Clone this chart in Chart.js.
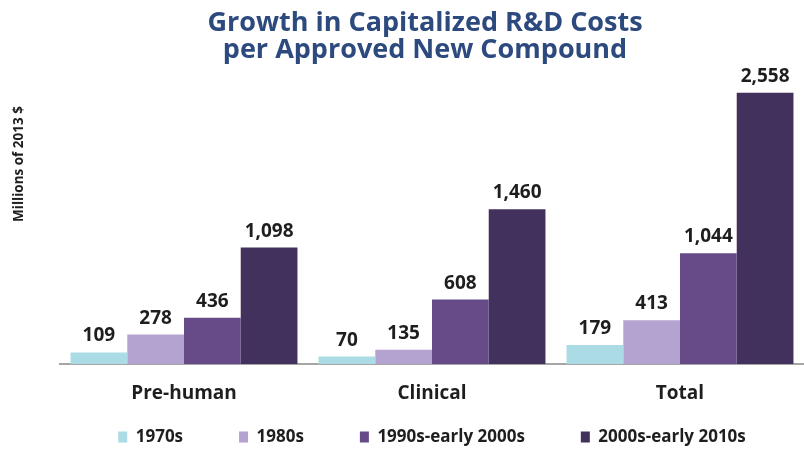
<!DOCTYPE html>
<html>
<head>
<meta charset="utf-8">
<script src="https://cdn.jsdelivr.net/npm/chart.js@4.4.1/dist/chart.umd.min.js"></script>
<style>
  html, body { margin: 0; padding: 0; background: #ffffff; }
  #wrap { width: 804px; height: 450px; position: relative; }
</style>
</head>
<body>
<div id="wrap"><canvas id="c" width="804" height="450"></canvas></div>
<script>
// ---- data ----
const categories = ['Pre-human', 'Clinical', 'Total'];
const seriesNames = ['1970s', '1980s', '1990s-early 2000s', '2000s-early 2010s'];
const values1970s = [109, 70, 179];
const values1980s = [278, 135, 413];
const values1990s = [436, 608, 1044];
const values2000s = [1098, 1460, 2558];
const titleLines = ['Growth in Capitalized R&D Costs', 'per Approved New Compound'];
const yAxisTitle = 'Millions of 2013 $';
const yMax = 2830;

// ---- styles ----
const seriesColors = ['#abdbe4', '#b4a2d0', '#674b89', '#42315c'];
const textColor = '#1e1e1e';
const fontFamily = '"Open Sans", "DejaVu Sans", sans-serif';
const legendRowCenter = 437;

const seriesValues = [values1970s, values1980s, values1990s, values2000s];

const valueLabels = {
  id: 'valueLabels',
  afterDatasetsDraw(chart) {
    const ctx = chart.ctx;
    ctx.save();
    ctx.font = 'bold 19px ' + fontFamily;
    ctx.fillStyle = textColor;
    ctx.textAlign = 'center';
    ctx.textBaseline = 'alphabetic';
    chart.data.datasets.forEach((ds, di) => {
      const meta = chart.getDatasetMeta(di);
      meta.data.forEach((bar, i) => {
        ctx.fillText(ds.data[i].toLocaleString('en-US'), bar.x, bar.y - 11);
      });
    });
    ctx.restore();
  }
};

const yTitlePlugin = {
  id: 'yTitlePlugin',
  afterDraw(chart) {
    const ctx = chart.ctx;
    ctx.save();
    ctx.translate(19, 164);
    ctx.rotate(-Math.PI / 2);
    ctx.font = 'bold 13.5px ' + fontFamily;
    ctx.fillStyle = textColor;
    ctx.textAlign = 'center';
    ctx.textBaseline = 'middle';
    ctx.fillText(yAxisTitle, 0, 0);
    ctx.restore();
  }
};

const centerBoxes = {
  id: 'centerBoxes',
  afterLayout(chart) {
    const lg = chart.legend;
    if (lg) {
      lg.left = chart.chartArea.left;
      lg.right = chart.chartArea.right;
      const itemH = (lg.legendHitBoxes && lg.legendHitBoxes[0]) ? lg.legendHitBoxes[0].height : 17;
      const pad = lg.options.labels.padding;
      lg.top = legendRowCenter - itemH / 2 - pad;
      lg.bottom = chart.height;
      lg.height = lg.bottom - lg.top;
    }
    if (chart.titleBlock) {
      chart.titleBlock.left = 46;
      chart.titleBlock.right = 804;
    }
  }
};

new Chart(document.getElementById('c'), {
  type: 'bar',
  data: {
    labels: categories,
    datasets: seriesNames.map((name, i) => ({
      label: name,
      data: seriesValues[i],
      backgroundColor: seriesColors[i],
      borderWidth: 0,
      categoryPercentage: 0.915,
      barPercentage: 1.0
    }))
  },
  options: {
    responsive: false,
    animation: false,
    devicePixelRatio: 1,
    layout: { padding: 0 },
    plugins: {
      title: {
        display: true,
        text: titleLines,
        color: '#2d4a7e',
        font: { family: fontFamily, size: 27, weight: 'bold', lineHeight: 1.0 },
        padding: { top: 10, bottom: 0 }
      },
      legend: {
        position: 'bottom',
        maxHeight: 40,
        labels: {
          color: textColor,
          font: { family: fontFamily, size: 17, weight: 'bold' },
          boxWidth: 9,
          boxHeight: 11,
          padding: 56
        }
      },
      tooltip: { enabled: false }
    },
    scales: {
      x: {
        grid: { display: false, drawTicks: false },
        border: { display: true, color: '#a6a6a6', width: 2 },
        ticks: {
          color: textColor,
          font: { family: fontFamily, size: 19, weight: 'bold' },
          padding: 18
        },
        afterFit(scale) { scale.height = 46; }
      },
      y: {
        min: 0,
        max: yMax,
        grid: { display: false, drawTicks: false },
        border: { display: false },
        ticks: { display: false },
        afterFit(scale) { scale.width = 60; }
      }
    }
  },
  plugins: [valueLabels, yTitlePlugin, centerBoxes]
});
</script>
</body>
</html>
